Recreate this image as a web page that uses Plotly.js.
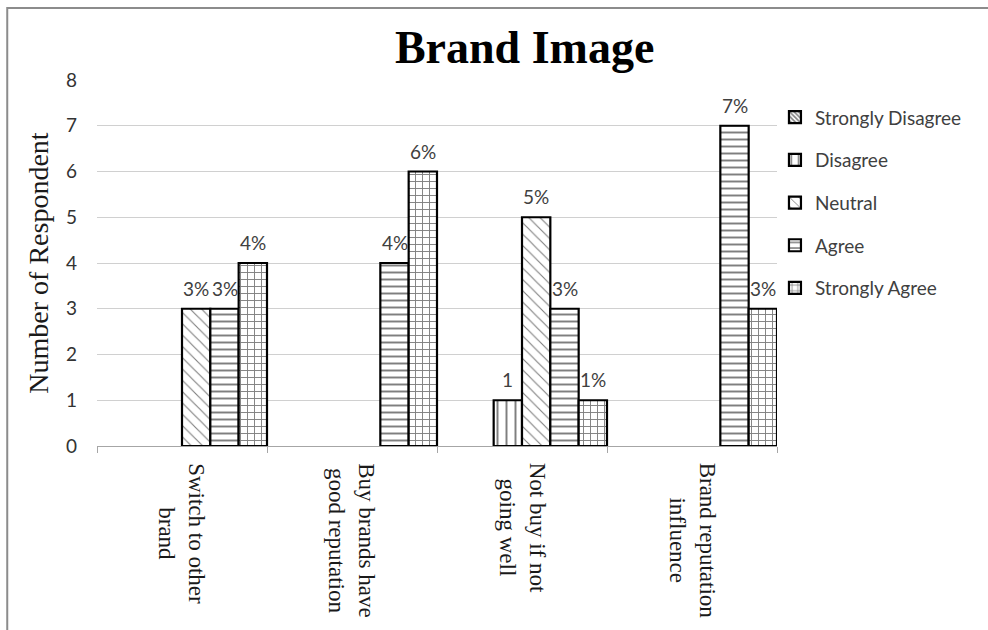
<!DOCTYPE html>
<html>
<head>
<meta charset="utf-8">
<script src="https://cdn.plot.ly/plotly-3.0.1.min.js"></script>
<style>html,body{margin:0;padding:0;background:#fff;}#chart{width:988px;height:630px;}</style>
</head>
<body>
<div id="chart"></div>
<script>
// ---- data ----
const categories = ['Switch to other brand', 'Buy brands have good reputation', 'Not buy if not going well', 'Brand reputation influence'];
const tickLabels = ['Switch to other<br>brand', 'Buy brands have<br>good reputation', 'Not buy if not<br>going well', 'Brand reputation<br>influence'];
const seriesNames = ['Strongly Disagree', 'Disagree', 'Neutral', 'Agree', 'Strongly Agree'];
const stronglyDisagree = [null, null, null, null];
const disagree = [null, null, 1, null];
const neutral = [3, null, 5, null];
const agree = [3, 4, 3, 7];
const stronglyAgree = [4, 6, 1, 3];
const labelsStronglyDisagree = ['', '', '', ''];
const labelsDisagree = ['', '', '1', ''];
const labelsNeutral = ['3%', '', '5%', ''];
const labelsAgree = ['3%', '4%', '3%', '7%'];
const labelsStronglyAgree = ['4%', '6%', '1%', '3%'];
const yTicks = [0, 1, 2, 3, 4, 5, 6, 7, 8];

// ---- styling ----
const values = [stronglyDisagree, disagree, neutral, agree, stronglyAgree];
const labels = [labelsStronglyDisagree, labelsDisagree, labelsNeutral, labelsAgree, labelsStronglyAgree];
const patterns = [
  {shape: '\\', size: 4, solidity: 0.5},
  {shape: '|', size: 9, solidity: 0.22},
  {shape: '\\', size: 8, solidity: 0.14},
  {shape: '-', size: 7, solidity: 0.28},
  {shape: '+', size: 7, solidity: 0.25}
];
const slotW = 1 / 6;
const SANS = 'Lato, "Noto Sans", sans-serif';
const SERIF = '"Liberation Serif", "Times New Roman", serif';

const traces = seriesNames.map((name, k) => ({
  type: 'bar',
  name: name,
  x: categories,
  y: values[k],
  width: slotW,
  offset: -0.5 + (k + 1) * slotW,
  legendgroup: 'g' + k,
  marker: {
    color: '#ffffff',
    line: {color: '#000000', width: 2.2},
    pattern: Object.assign({fgcolor: '#000000', bgcolor: '#ffffff', fillmode: 'overlay'}, patterns[k])
  },
  hoverinfo: 'x+y+name'
}));

const annotations = [];
seriesNames.forEach((name, k) => {
  categories.forEach((c, i) => {
    if (labels[k][i] !== '' && values[k][i] !== null) {
      annotations.push({
        xref: 'x', yref: 'y',
        x: i - 0.5 + (k + 1.5) * slotW,
        y: values[k][i],
        text: labels[k][i],
        showarrow: false,
        xanchor: 'center', yanchor: 'bottom',
        yshift: 7,
        font: {family: SANS, size: 19, color: '#404040'}
      });
    }
  });
});
categories.forEach((c, i) => {
  annotations.push({
    xref: 'x', yref: 'paper',
    x: i,
    y: -0.04,
    text: tickLabels[i],
    showarrow: false,
    textangle: 90,
    align: 'center',
    xanchor: 'center', yanchor: 'top',
    font: {family: SERIF, size: 23, color: '#1a1a1a'}
  });
});

const layout = {
  width: 988, height: 630,
  margin: {l: 97, r: 211, t: 80, b: 184, pad: 0},
  paper_bgcolor: '#ffffff', plot_bgcolor: '#ffffff',
  barmode: 'group',
  bargap: 0, bargroupgap: 0,
  title: {
    text: '<b>Brand Image</b>',
    font: {family: SERIF, size: 46, color: '#000000'},
    xref: 'container', yref: 'container',
    x: 0.531, xanchor: 'center',
    y: 0.925, yanchor: 'middle'
  },
  xaxis: {
    type: 'category',
    categoryorder: 'array', categoryarray: categories,
    showticklabels: false,
    ticks: 'outside', tickson: 'boundaries', ticklen: 6, tickcolor: '#a6a6a6', tickwidth: 1,
    showline: true, linecolor: '#a6a6a6', linewidth: 1,
    showgrid: false, zeroline: false,
    range: [-0.5, 3.5]
  },
  yaxis: {
    range: [0, 8],
    tickvals: yTicks,
    ticktext: yTicks.map(String),
    showgrid: true, gridcolor: '#d0d0d0', gridwidth: 1,
    zeroline: false, showline: false,
    ticks: '',
    ticklabelstandoff: 19,
    tickfont: {family: SANS, size: 19, color: '#333333'},
    title: {text: 'Number of Respondent', font: {family: SERIF, size: 28, color: '#1a1a1a'}, standoff: 9}
  },
  legend: {
    x: 0.997, xanchor: 'left',
    y: 0.95, yanchor: 'top',
    font: {family: SANS, size: 19, color: '#404040'},
    tracegroupgap: 15,
    traceorder: 'grouped',
    bgcolor: 'rgba(0,0,0,0)',
    itemclick: false, itemdoubleclick: false
  },
  annotations: annotations,
  shapes: [{
    type: 'rect', xref: 'paper', yref: 'paper',
    x0: -0.132, x1: 1.6, y0: -0.6, y1: 1.197,
    line: {color: '#8c8c8c', width: 2}, layer: 'below'
  }],
  showlegend: true
};

Plotly.newPlot('chart', traces, layout, {displayModeBar: false, staticPlot: true});
</script>
</body>
</html>
